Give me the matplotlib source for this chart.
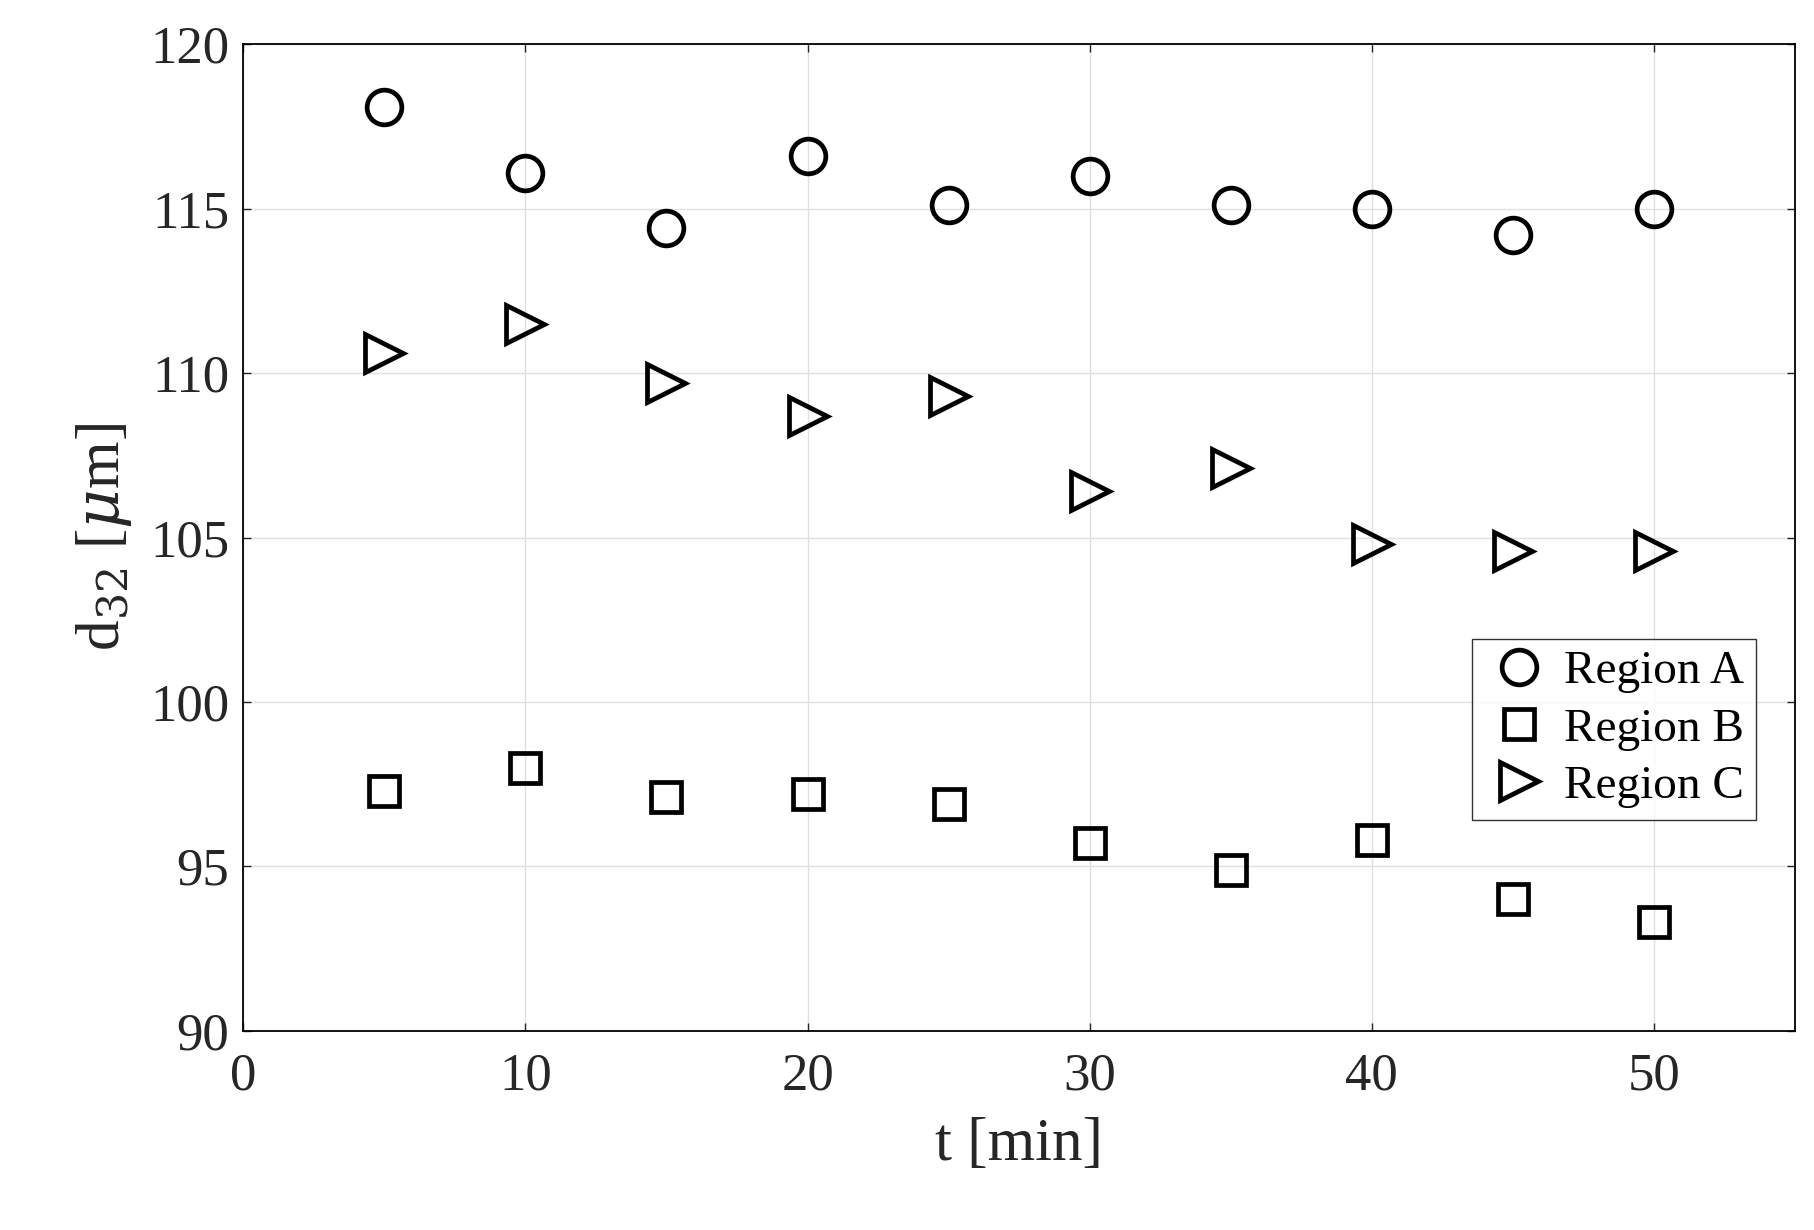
import matplotlib.pyplot as plt

t = [5, 10, 15, 20, 25, 30, 35, 40, 45, 50]
region_a = [118.1, 116.1, 114.4, 116.6, 115.1, 116.0, 115.1, 115.0, 114.2, 115.0]
region_b = [97.3, 98.0, 97.1, 97.2, 96.9, 95.7, 94.9, 95.8, 94.0, 93.3]
region_c = [110.6, 111.5, 109.7, 108.7, 109.3, 106.4, 107.1, 104.8, 104.6, 104.6]

plt.rcParams['font.family'] = ['Liberation Serif', 'DejaVu Serif']
plt.rcParams['mathtext.fontset'] = 'dejavuserif'

fig = plt.figure(figsize=(18.15, 12.3), dpi=100)
ax = fig.add_axes([0.134, 0.162, 0.855, 0.802])

kw = dict(linestyle='none', markerfacecolor='none', markeredgecolor='k', markeredgewidth=3.4)
ax.plot(t, region_a, 'o', markersize=25, label='Region A', **kw)
ax.plot(t, region_b, 's', markersize=21, label='Region B', **kw)
ax.plot(t, region_c, '>', markersize=27, label='Region C', **kw)

ax.set_xlim(0, 55)
ax.set_ylim(90, 120)
ax.set_xticks(range(0, 51, 10))
ax.set_yticks(range(90, 121, 5))
ax.grid(True, color='#e0e0e0', linewidth=1)
ax.tick_params(labelsize=38, direction='in', length=6, width=1.0, top=True, right=True, colors='#262626')
ax.tick_params(axis='x', pad=16)
ax.tick_params(axis='y', pad=10)
for s in ax.spines.values():
    s.set_linewidth(1.3)
ax.set_xlabel('t [min]', fontsize=44, color='#262626', labelpad=12)
ax.set_ylabel(r'd$_{32}$ [$\mu$m]', fontsize=44, color='#262626', labelpad=12)

leg = ax.legend(loc='lower right', bbox_to_anchor=(0.99, 0.19), fontsize=34, frameon=True,
                fancybox=False, edgecolor='k', handletextpad=0.2, borderpad=0.25,
                labelspacing=0.3, handlelength=1.5)
leg.get_frame().set_linewidth(1.0)

fig.savefig('out.png', dpi=100)
